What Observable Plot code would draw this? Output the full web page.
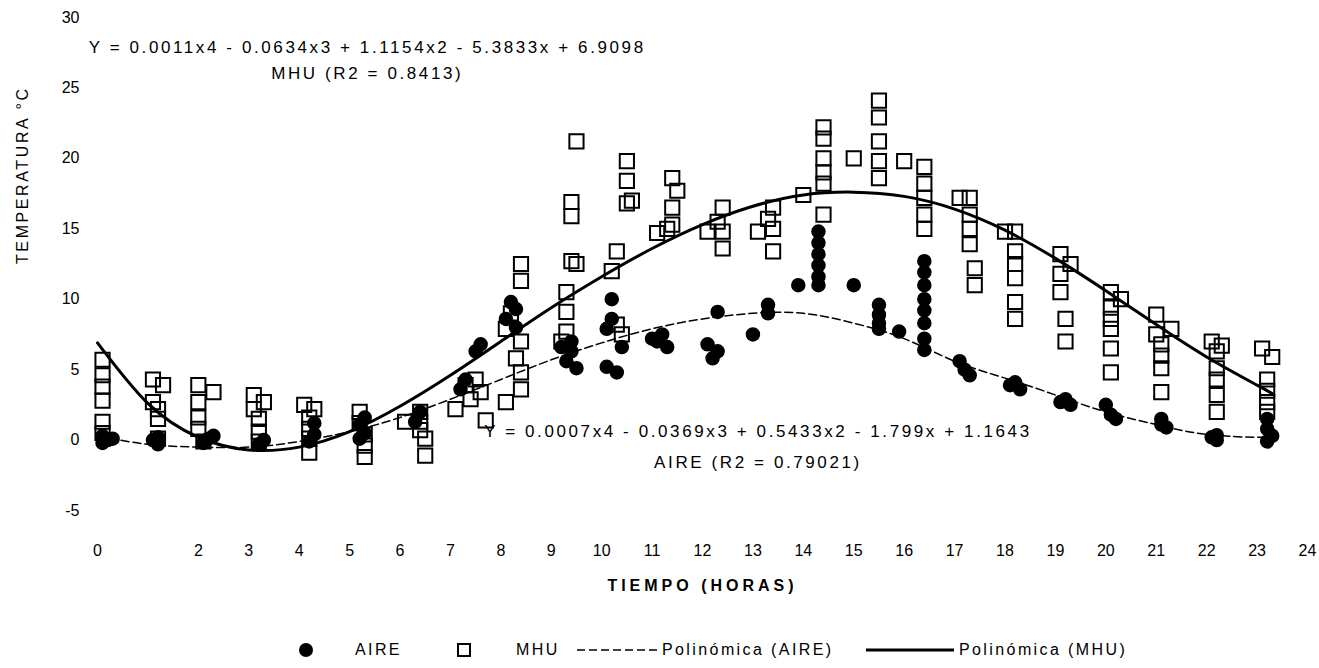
<!DOCTYPE html>
<html>
<head>
<meta charset="utf-8">
<script src="https://cdn.jsdelivr.net/npm/d3@7"></script>
<script src="https://cdn.jsdelivr.net/npm/@observablehq/plot@0.6"></script>
<style>
  html, body { margin: 0; padding: 0; background: #fff; }
  body { width: 1319px; height: 668px; overflow: hidden; position: relative; font-family: "Liberation Sans", sans-serif; }
  .wide text { letter-spacing: 2.6px; }
  .wideb text { letter-spacing: 4px; }
  #legend { position: absolute; left: 0; top: 636px; width: 1319px; height: 28px; font-size: 16px; color: #000; letter-spacing: 2.4px; }
  #legend .it { position: absolute; top: 0; height: 28px; display: flex; align-items: center; white-space: nowrap; }
</style>
</head>
<body>
<div id="chart"></div>
<div id="legend"></div>
<script>
// ---- data ----
const mhuHour = [
  0.1,0.1,0.1,0.1,0.1,0.1,
  1.1,1.3,1.1,1.2,1.2,1.2,
  2.0,2.3,2.0,2.0,2.1,2.0,
  3.1,3.3,3.2,3.2,3.1,3.2,
  4.1,4.3,4.2,4.2,4.2,4.2,
  5.2,5.3,5.3,5.2,5.3,
  6.1,6.4,6.5,6.5,6.4,6.4,
  7.1,7.4,7.6,7.3,7.5,7.7,
  8.1,8.4,8.3,8.4,8.4,8.1,8.4,8.4,8.2,
  9.5,9.4,9.4,9.4,9.5,9.3,9.3,9.3,9.2,
  10.5,10.5,10.6,10.5,10.3,10.2,10.3,10.4,
  11.4,11.5,11.4,11.4,11.1,11.3,
  12.4,12.4,12.4,12.1,12.3,
  13.4,13.4,13.4,13.1,13.3,
  14.4,14.4,14.4,14.4,14.4,14.4,14.0,
  15.0,15.5,15.5,15.5,15.5,15.5,
  16.0,16.4,16.4,16.4,16.4,16.4,
  17.1,17.3,17.3,17.3,17.3,17.4,17.4,
  18.0,18.2,18.2,18.2,18.2,18.2,18.2,
  19.1,19.3,19.1,19.1,19.2,19.2,
  20.1,20.3,20.1,20.1,20.1,20.1,20.1,
  21.0,21.3,21.0,21.1,21.1,21.1,21.1,
  22.1,22.3,22.2,22.2,22.2,22.2,22.2,
  23.1,23.3,23.2,23.2,23.2,23.2
];
const mhuTemp = [
  5.7,4.6,3.8,2.8,1.3,0.5,
  4.3,3.9,2.7,1.5,0.1,2.2,
  3.9,3.4,2.7,1.6,-0.1,0.8,
  3.2,2.7,1.5,-0.1,2.2,0.6,
  2.5,2.2,0.8,0.1,-0.9,1.6,
  2.0,0.4,-1.2,1.2,-0.4,
  1.3,1.3,0.1,-1.1,2.0,0.7,
  2.2,2.9,3.4,3.9,4.3,1.4,
  7.9,7.0,5.8,4.8,3.6,2.7,12.5,11.3,9.0,
  21.2,16.9,15.9,12.7,12.5,10.5,9.1,7.7,7.0,
  19.8,18.4,17.0,16.8,13.4,12.0,8.2,7.5,
  18.6,17.7,16.5,15.3,14.7,15.0,
  16.5,14.8,13.6,14.8,15.5,
  16.5,15.0,13.4,14.8,15.7,
  22.2,21.4,20.0,19.0,18.2,16.0,17.4,
  20.0,24.1,22.9,21.2,19.8,18.6,
  19.8,19.4,18.2,17.2,16.0,15.0,
  17.2,17.2,16.0,15.0,13.9,12.2,11.0,
  14.8,14.8,13.4,12.5,11.5,9.8,8.6,
  13.2,12.5,11.8,10.5,8.6,7.0,
  10.5,10.0,9.4,8.6,7.9,6.5,4.8,
  8.9,7.9,7.5,6.8,6.0,5.1,3.4,
  7.0,6.7,6.3,5.1,4.3,3.2,2.0,
  6.5,5.9,4.3,3.5,2.7,2.0
];
const aireHour = [
  0.1,0.2,0.1,0.3,
  1.1,1.2,1.2,
  2.2,2.1,2.3,
  3.2,3.3,
  4.2,4.3,4.3,
  5.2,5.3,5.2,5.3,
  6.4,6.3,
  7.6,7.5,7.3,7.2,
  8.2,8.3,8.1,8.3,
  9.4,9.4,9.3,9.5,9.2,
  10.2,10.2,10.1,10.3,10.1,10.4,
  11.2,11.1,11.3,11.0,
  12.3,12.3,12.2,12.1,
  13.3,13.0,13.3,
  14.3,14.3,14.3,14.3,14.3,14.3,13.9,
  15.0,15.5,15.5,15.5,15.5,
  15.9,16.4,16.4,16.4,16.4,16.4,16.4,16.4,16.4,
  17.1,17.2,17.3,
  18.2,18.3,18.1,
  19.2,19.3,19.1,
  20.0,20.1,20.2,
  21.1,21.2,21.1,
  22.2,22.2,22.1,
  23.2,23.2,23.3,23.2
];
const aireTemp = [
  0.3,0.0,-0.2,0.1,
  0.0,-0.3,0.2,
  0.1,-0.2,0.3,
  -0.3,0.0,
  -0.1,0.4,1.2,
  1.1,0.5,0.1,1.6,
  2.0,1.3,
  6.8,6.3,4.3,3.6,
  9.8,9.3,8.6,8.0,
  7.0,6.3,5.6,5.1,6.6,
  10.0,8.6,7.9,4.8,5.2,6.6,
  7.5,7.0,6.6,7.2,
  9.1,6.3,5.8,6.8,
  9.6,7.5,9.0,
  14.8,14.0,13.2,12.4,11.6,11.0,11.0,
  11.0,9.6,8.9,8.3,7.9,
  7.7,12.7,11.9,11.0,10.0,9.2,8.3,7.2,6.4,
  5.6,5.0,4.6,
  4.1,3.6,3.9,
  2.9,2.5,2.7,
  2.5,1.8,1.5,
  1.5,0.9,1.1,
  0.35,0.0,0.2,
  1.5,0.8,0.3,-0.1
];
// fitted curves at each hour
const fitHour = [0,1,2,3,4,5,6,7,8,9,10,11,12,13,14,15,16,17,18,19,20,21,22,23,23.3];
const fitMHU  = [6.9,2.6,0.2,-0.7,-0.5,0.6,2.4,4.6,7.0,9.4,11.6,13.6,15.3,16.6,17.4,17.6,17.3,16.4,14.9,12.9,10.6,8.2,5.9,3.9,3.3];
const fitAIRE = [0.3,-0.3,-0.5,-0.5,-0.1,0.6,1.6,2.9,4.3,5.7,6.9,7.9,8.6,9.0,9.0,8.3,7.2,5.6,4.4,3.2,2.0,1.1,0.4,0.2,0.2];
const xTicks = [0,2,3,4,5,6,7,8,9,10,11,12,13,14,15,16,17,18,19,20,21,22,23,24];
const yTicks = [-5,0,5,10,15,20,25,30];
const eqMHU = "Y = 0.0011x4 - 0.0634x3 + 1.1154x2 - 5.3833x + 6.9098";
const r2MHU = "MHU (R2 = 0.8413)";
const eqAIRE = "Y = 0.0007x4 - 0.0369x3 + 0.5433x2 - 1.799x + 1.1643";
const r2AIRE = "AIRE (R2 = 0.79021)";
const legendLabels = ["AIRE", "MHU", "Polinómica (AIRE)", "Polinómica (MHU)"];

// ---- build ----
const mhu = mhuHour.map((h, i) => ({h, t: mhuTemp[i]}));
const aire = aireHour.map((h, i) => ({h, t: aireTemp[i]}));
const fit = fitHour.map((h, i) => ({h, m: fitMHU[i], a: fitAIRE[i]}));

const chart = Plot.plot({
  width: 1319,
  height: 615,
  marginLeft: 97,
  marginRight: 12,
  marginTop: 17,
  marginBottom: 105,
  style: {fontFamily: '"Liberation Sans", sans-serif', fontSize: "16px", color: "#000", background: "#fff"},
  x: {domain: [0, 24]},
  y: {domain: [-5, 30]},
  marks: [
    Plot.axisX({ticks: xTicks, tickSize: 0, tickPadding: 34, label: null, fontSize: 16, tickFormat: d => String(d)}),
    Plot.axisY({ticks: yTicks, tickSize: 0, tickPadding: 18, label: null, fontSize: 16, tickFormat: d => String(d)}),
    Plot.text(["TEMPERATURA °C"], {frameAnchor: "left", dx: -75, rotate: -90, fontSize: 16, className: "wide"}),
    Plot.text(["TIEMPO (HORAS)"], {frameAnchor: "bottom", dy: 80, fontSize: 16, fontWeight: "bold", className: "wideb"}),
    Plot.line(fit, {x: "h", y: "a", curve: "natural", stroke: "#000", strokeWidth: 1.5, strokeDasharray: "8,4"}),
    Plot.line(fit, {x: "h", y: "m", curve: "natural", stroke: "#000", strokeWidth: 3}),
    Plot.dot(aire, {x: "h", y: "t", r: 6.5, fill: "#000", stroke: "#000", strokeWidth: 1.5}),
    Plot.dot(mhu, {x: "h", y: "t", symbol: "square", r: 8, fill: "none", stroke: "#000", strokeWidth: 2}),
    Plot.text([eqMHU], {x: 5.35, y: 27.9, fontSize: 17, className: "wide"}),
    Plot.text([r2MHU], {x: 5.35, y: 26.0, fontSize: 17, className: "wide"}),
    Plot.text([eqAIRE], {x: 13.1, y: 0.6, fontSize: 17, className: "wide"}),
    Plot.text([r2AIRE], {x: 13.1, y: -1.6, fontSize: 17, className: "wide"})
  ]
});
document.getElementById("chart").append(chart);

// legend (positions in page pixels)
const lg = document.getElementById("legend");
const items = [
  {left: 298, html: '<svg width="16" height="16"><circle cx="8" cy="8" r="7" fill="#000"/></svg>'},
  {left: 355, html: '<span>' + legendLabels[0] + '</span>'},
  {left: 456, html: '<svg width="16" height="16"><rect x="2" y="2" width="12" height="12" fill="#fff" stroke="#000" stroke-width="2"/></svg>'},
  {left: 516, html: '<span>' + legendLabels[1] + '</span>'},
  {left: 577, html: '<svg width="80" height="10"><line x1="0" y1="5" x2="80" y2="5" stroke="#000" stroke-width="1.5" stroke-dasharray="8,4"/></svg>'},
  {left: 662, html: '<span>' + legendLabels[2] + '</span>'},
  {left: 866, html: '<svg width="88" height="10"><line x1="0" y1="5" x2="88" y2="5" stroke="#000" stroke-width="3"/></svg>'},
  {left: 959, html: '<span>' + legendLabels[3] + '</span>'}
];
items.forEach(o => {
  const d = document.createElement("div");
  d.className = "it";
  d.style.left = o.left + "px";
  d.innerHTML = o.html;
  lg.append(d);
});
</script>
</body>
</html>
